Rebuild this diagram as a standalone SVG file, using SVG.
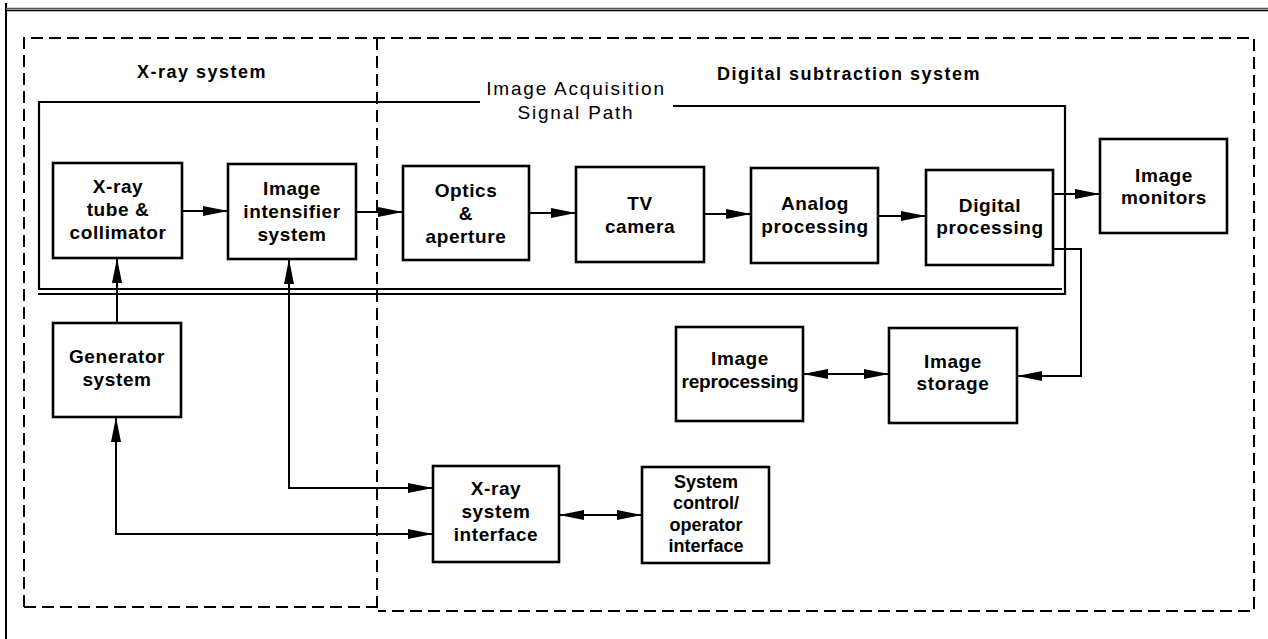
<svg xmlns="http://www.w3.org/2000/svg" width="1268" height="639" viewBox="0 0 1268 639">
<style>
.frame{fill:none;stroke:#000;stroke-width:2}
.dash{fill:none;stroke:#000;stroke-width:2;stroke-dasharray:12 6}
.box{fill:#fff;stroke:#000;stroke-width:2.6}
.sp{fill:none;stroke:#000;stroke-width:2.2}
.c{fill:none;stroke:#000;stroke-width:2}
.t{font-family:"Liberation Sans",Arial,Helvetica,sans-serif;font-weight:bold;font-size:19px;letter-spacing:0.6px;text-anchor:middle;fill:#000}
.s{font-size:18px;letter-spacing:0}
.h{font-family:"Liberation Sans",Arial,Helvetica,sans-serif;font-weight:bold;font-size:18px;letter-spacing:1.5px;fill:#000}
.n{font-family:"Liberation Sans",Arial,Helvetica,sans-serif;font-size:19px;letter-spacing:1.8px;text-anchor:middle;fill:#000}
</style>
<defs>
<marker id="ah" markerUnits="userSpaceOnUse" markerWidth="26" markerHeight="12" viewBox="0 0 26 12" refX="25" refY="6" orient="auto-start-reverse">
<path d="M0,1 L25,6 L0,11 z" fill="#000"/>
</marker>
</defs>
<rect width="1268" height="639" fill="#fff"/>
<g id="frame">
<line x1="6" y1="3" x2="6" y2="639" class="frame"/>
<line x1="6" y1="8.5" x2="1268" y2="8.5" stroke="#555" stroke-width="1.3"/>
<line x1="6" y1="10.5" x2="1268" y2="10.5" stroke="#000" stroke-width="1.3"/>
</g>
<g id="regions">
<path class="dash" d="M24,607 V38 H1254 V611 H378"/>
<path class="dash" d="M24,607 H378"/>
<line class="dash" x1="377" y1="38" x2="377" y2="607"/>
<text class="h" x="137" y="78">X-ray system</text>
<text class="h" x="717" y="80">Digital subtraction system</text>
</g>
<g id="signal-path">
<path class="sp" d="M480,102 H39 V289 H1062"/>
<path class="sp" d="M38,294 H1065 V106 H673"/>
<text class="n" x="576" y="95">Image Acquisition</text>
<text class="n" x="576" y="119">Signal Path</text>
</g>
<g id="connectors">
<line class="c" x1="182" y1="211" x2="228" y2="211" marker-end="url(#ah)"/>
<line class="c" x1="356" y1="212" x2="403" y2="212" marker-end="url(#ah)"/>
<line class="c" x1="529" y1="213" x2="576" y2="213" marker-end="url(#ah)"/>
<line class="c" x1="704" y1="214" x2="751" y2="214" marker-end="url(#ah)"/>
<line class="c" x1="878" y1="216" x2="926" y2="216" marker-end="url(#ah)"/>
<line class="c" x1="1053" y1="194" x2="1100" y2="194" marker-end="url(#ah)"/>
<polyline class="c" points="1053,249 1081,249 1081,376 1017,376" marker-end="url(#ah)"/>
<line class="c" x1="803" y1="374" x2="889" y2="374" marker-start="url(#ah)" marker-end="url(#ah)"/>
<line class="c" x1="117" y1="323" x2="117" y2="258" marker-end="url(#ah)"/>
<polyline class="c" points="289,259 289,488 433,488" marker-start="url(#ah)" marker-end="url(#ah)"/>
<polyline class="c" points="116,417 116,534 433,534" marker-start="url(#ah)" marker-end="url(#ah)"/>
<line class="c" x1="559" y1="515" x2="642" y2="515" marker-start="url(#ah)" marker-end="url(#ah)"/>
</g>
<g id="xray-tube">
<rect class="box" x="53" y="163" width="129" height="95"/>
<text class="t" x="118" y="193">X-ray</text>
<text class="t" x="118" y="216">tube &amp;</text>
<text class="t" x="118" y="239">collimator</text>
</g>
<g id="image-intensifier">
<rect class="box" x="228" y="164" width="128" height="95"/>
<text class="t" x="292" y="195">Image</text>
<text class="t" x="292" y="218">intensifier</text>
<text class="t" x="292" y="241">system</text>
</g>
<g id="optics">
<rect class="box" x="403" y="166" width="126" height="94"/>
<text class="t" x="466" y="197">Optics</text>
<text class="t" x="466" y="220">&amp;</text>
<text class="t" x="466" y="243">aperture</text>
</g>
<g id="tv-camera">
<rect class="box" x="576" y="167" width="128" height="95"/>
<text class="t" x="640" y="210">TV</text>
<text class="t" x="640" y="233">camera</text>
</g>
<g id="analog-processing">
<rect class="box" x="751" y="168" width="127" height="95"/>
<text class="t" x="815" y="210">Analog</text>
<text class="t" x="815" y="233">processing</text>
</g>
<g id="digital-processing">
<rect class="box" x="926" y="170" width="127" height="95"/>
<text class="t" x="990" y="212">Digital</text>
<text class="t" x="990" y="234">processing</text>
</g>
<g id="image-monitors">
<rect class="box" x="1100" y="139" width="127" height="94"/>
<text class="t" x="1164" y="182">Image</text>
<text class="t" x="1164" y="204">monitors</text>
</g>
<g id="generator">
<rect class="box" x="53" y="323" width="128" height="94"/>
<text class="t" x="117" y="363">Generator</text>
<text class="t" x="117" y="386">system</text>
</g>
<g id="image-reprocessing">
<rect class="box" x="676" y="327" width="127" height="94"/>
<text class="t" x="740" y="365">Image</text>
<text class="t" x="740" y="388" style="letter-spacing:-0.2px">reprocessing</text>
</g>
<g id="image-storage">
<rect class="box" x="889" y="328" width="128" height="95"/>
<text class="t" x="953" y="368">Image</text>
<text class="t" x="953" y="390">storage</text>
</g>
<g id="xray-interface">
<rect class="box" x="433" y="466" width="126" height="96"/>
<text class="t" x="496" y="495">X-ray</text>
<text class="t" x="496" y="518">system</text>
<text class="t" x="496" y="541">interface</text>
</g>
<g id="system-control">
<rect class="box" x="642" y="467" width="127" height="96"/>
<text class="t s" x="706" y="488">System</text>
<text class="t s" x="706" y="509">control/</text>
<text class="t s" x="706" y="531">operator</text>
<text class="t s" x="706" y="552">interface</text>
</g>
</svg>
